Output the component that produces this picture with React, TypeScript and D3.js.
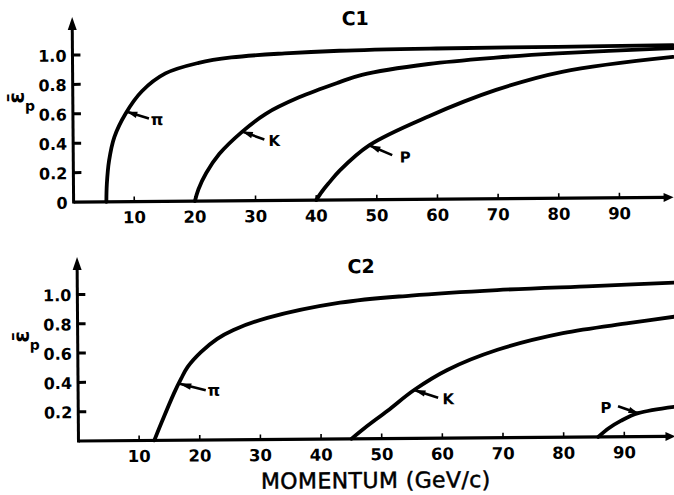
import * as d3 from "d3";

const WIDTH = 674;
const HEIGHT = 495;
const FONT = "'DejaVu Sans', sans-serif";

// axis ticks
const momentumTicks = [10, 20, 30, 40, 50, 60, 70, 80, 90];
const c1EffTicks = [0, 0.2, 0.4, 0.6, 0.8, 1.0];
const c2EffTicks = [0.2, 0.4, 0.6, 0.8, 1.0];

// C1 curves (momentum GeV/c, mean efficiency)
const c1PionP = [5.4, 5.5, 5.9, 6.8, 8.7, 11.4, 15.3, 20.8, 26.2, 35, 44, 60, 80, 99];
const c1PionEff = [0, 0.12, 0.28, 0.44, 0.6, 0.75, 0.87, 0.94, 0.975, 1.0, 1.015, 1.025, 1.03, 1.035];
const c1KaonP = [20, 20.6, 21.9, 24.1, 27.9, 31.8, 37.3, 43.9, 47.7, 58.7, 69.8, 80, 99];
const c1KaonEff = [0, 0.08, 0.19, 0.32, 0.47, 0.59, 0.7, 0.8, 0.85, 0.92, 0.96, 0.985, 1.015];
const c1ProtonP = [40, 41, 42.2, 43.9, 48.8, 58.7, 69.8, 80.7, 99];
const c1ProtonEff = [0, 0.06, 0.12, 0.2, 0.37, 0.565, 0.74, 0.86, 0.955];

// C2 curves
const c2PionP = [12.5, 13.7, 15.8, 17, 18.1, 20.3, 23, 25.7, 31.3, 43.3, 55, 69.2, 85, 99];
const c2PionEff = [0, 0.12, 0.32, 0.42, 0.5, 0.6, 0.69, 0.75, 0.83, 0.93, 0.975, 1.008, 1.03, 1.05];
const c2KaonP = [45, 47.1, 51, 55.4, 60.9, 69.2, 80, 91.1, 99];
const c2KaonEff = [0, 0.07, 0.19, 0.33, 0.465, 0.6, 0.71, 0.776, 0.82];
const c2ProtonP = [85.7, 87.5, 89.5, 92.3, 99];
const c2ProtonEff = [0, 0.06, 0.11, 0.16, 0.205];

// curve labels and the momentum where each pointer touches its curve
const c1Labels = ["π", "K", "P"];
const c1LabelAt = [8.9, 27.9, 48.8];
const c2Labels = ["π", "K", "P"];
const c2LabelAt = [16.6, 55.4, 92.3];

// pointer geometry (pixels from the curve point): leader end, label centre
const C1_POINTERS = [
  { ex: 22, ey: 7, lx: 30, ly: 8 },
  { ex: 22, ey: 8, lx: 32, ly: 9 },
  { ex: 23, ey: 10, lx: 36, ly: 12 },
];
const C2_POINTERS = [
  { ex: 27, ey: 7, lx: 35, ly: 7 },
  { ex: 24, ey: 8, lx: 34, ly: 9 },
  { ex: -20, ey: -7, lx: -32, ly: -6 },
];

interface Series {
  p: number[];
  eff: number[];
  label: string;
  at: number;
}

interface PanelProps {
  title: string;
  series: Series[];
  ticks: number[];
  pointers: { ex: number; ey: number; lx: number; ly: number }[];
  x0: number;      // y-axis position
  base: number;    // baseline (eff = 0)
  top: number;     // eff = 1.0
  tip: number;     // top of y-axis arrow
  titleX: number;
  titleY: number;
  epsY: number;
}

function Panel(props: PanelProps) {
  const { title, series, ticks, pointers, x0, base, top, tip } = props;
  const x = d3.scaleLinear().domain([0, 100]).range([x0, x0 + 606.5]);
  const y = d3.scaleLinear().domain([0, 1]).range([base, top]);
  const line = d3
    .line<[number, number]>()
    .x((d) => x(d[0]))
    .y((d) => y(d[1]))
    .curve(d3.curveCatmullRom.alpha(0.5));

  const xEnd = 673;

  return (
    <g>
      {/* title */}
      <text x={props.titleX} y={props.titleY} textAnchor="middle" fontFamily={FONT}
        fontWeight="bold" fontSize={19}>{title}</text>

      {/* y-axis label */}
      <text transform={`translate(${x0 - 49},${props.epsY}) rotate(-90)`} textAnchor="middle"
        fontFamily={FONT} fontWeight="bold" fontSize={22}>{"ε\u0304"}</text>
      <text x={x0 - 43} y={props.epsY + 13} textAnchor="middle" fontFamily={FONT}
        fontWeight="bold" fontSize={14}>p</text>

      {/* y axis with arrow */}
      <line x1={x0} x2={x0} y1={base + 1.5} y2={tip + 8} stroke="#000" strokeWidth={3} />
      <path d={`M${x0},${tip} L${x0 - 4.5},${tip + 13} L${x0 + 4.5},${tip + 13} Z`} fill="#000" />

      {/* x axis with arrow */}
      <line x1={x0} x2={xEnd - 6} y1={base} y2={base} stroke="#000" strokeWidth={3.2} />
      <path d={`M${xEnd + 1},${base} L${xEnd - 9},${base - 4.5} L${xEnd - 9},${base + 4.5} Z`} fill="#000" />

      {/* y ticks */}
      {ticks.map((t) => (
        <g key={t}>
          {t > 0 && (
            <line x1={x0} x2={x0 + 8} y1={y(t)} y2={y(t)} stroke="#000" strokeWidth={3} />
          )}
          <text x={x0 - 6} y={y(t) + 6.5} textAnchor="end" fontFamily={FONT}
            fontWeight="bold" fontSize={16}>{t === 0 ? "0" : d3.format(".1f")(t)}</text>
        </g>
      ))}

      {/* x ticks */}
      {momentumTicks.map((m) => (
        <g key={m}>
          <line x1={x(m)} x2={x(m)} y1={base} y2={base - 5} stroke="#000" strokeWidth={1.6} />
          <text x={x(m)} y={base + 21.5} textAnchor="middle" fontFamily={FONT}
            fontWeight="bold" fontSize={16.5}>{m}</text>
        </g>
      ))}

      {/* curves */}
      {series.map((s) => (
        <path key={s.label} d={line(s.p.map((v, i) => [v, s.eff[i]] as [number, number])) ?? ""}
          fill="none" stroke="#000" strokeWidth={3.8} strokeLinecap="round" />
      ))}

      {/* pointers and labels */}
      {series.map((s, i) => {
        const interp = d3.scaleLinear().domain(s.p).range(s.eff);
        const cx = x(s.at);
        const cy = y(interp(s.at));
        const pt = pointers[i];
        const ang = Math.atan2(pt.ey, pt.ex);
        const nx = -Math.sin(ang);
        const ny = Math.cos(ang);
        const w = 3.2;
        const wedge = `M${cx},${cy} L${cx + pt.ex * 0.45 + nx * w},${cy + pt.ey * 0.45 + ny * w} ` +
          `L${cx + pt.ex * 0.45 - nx * w},${cy + pt.ey * 0.45 - ny * w} Z`;
        return (
          <g key={s.label}>
            <line x1={cx} y1={cy} x2={cx + pt.ex} y2={cy + pt.ey} stroke="#000" strokeWidth={2.6} />
            <path d={wedge} fill="#000" />
            <text x={cx + pt.lx} y={cy + pt.ly + 5.5} textAnchor="middle" fontFamily={FONT}
              fontWeight="bold" fontSize={s.label === "π" ? 16 : 15}>{s.label}</text>
          </g>
        );
      })}
    </g>
  );
}

export default function App() {
  const c1Series: Series[] = [
    { p: c1PionP, eff: c1PionEff, label: c1Labels[0], at: c1LabelAt[0] },
    { p: c1KaonP, eff: c1KaonEff, label: c1Labels[1], at: c1LabelAt[1] },
    { p: c1ProtonP, eff: c1ProtonEff, label: c1Labels[2], at: c1LabelAt[2] },
  ];
  const c2Series: Series[] = [
    { p: c2PionP, eff: c2PionEff, label: c2Labels[0], at: c2LabelAt[0] },
    { p: c2KaonP, eff: c2KaonEff, label: c2Labels[1], at: c2LabelAt[1] },
    { p: c2ProtonP, eff: c2ProtonEff, label: c2Labels[2], at: c2LabelAt[2] },
  ];

  return (
    <svg width={WIDTH} height={HEIGHT} viewBox={`0 0 ${WIDTH} ${HEIGHT}`}
      style={{ position: "absolute", left: 0, top: 0, background: "#fff" }}>
      <rect width={WIDTH} height={HEIGHT} fill="#fff" />
      {/* the scanned figure sits slightly tilted */}
      <g transform="rotate(-0.45 370 250)">
        <Panel title="C1" series={c1Series} ticks={c1EffTicks} pointers={C1_POINTERS}
          x0={74} base={199.7} top={52.7} tip={14.7} titleX={357} titleY={25} epsY={95} />
        <Panel title="C2" series={c2Series} ticks={c2EffTicks} pointers={C2_POINTERS}
          x0={77} base={438.7} top={292.2} tip={254.7} titleX={361} titleY={273} epsY={334} />
        <text x={374} y={488} textAnchor="middle" fontFamily={FONT} fontSize={22}
          letterSpacing={0.4} stroke="#000" strokeWidth={0.5}>MOMENTUM (GeV/c)</text>
      </g>
    </svg>
  );
}
